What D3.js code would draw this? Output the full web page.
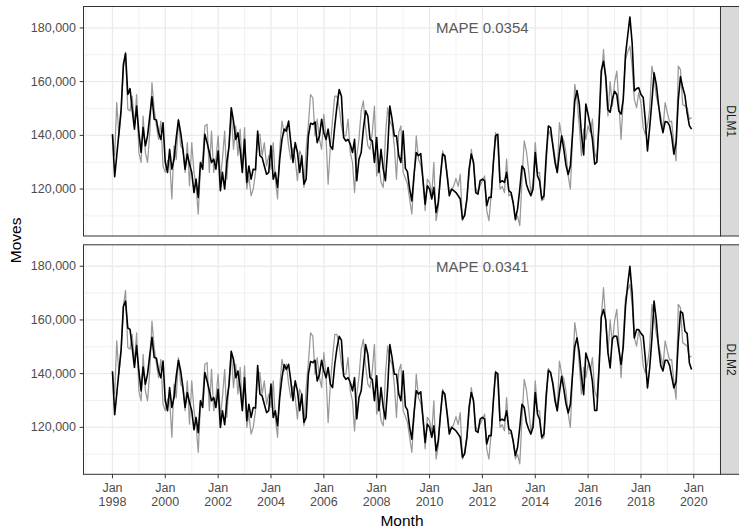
<!DOCTYPE html>
<html>
<head>
<meta charset="utf-8">
<script src="https://cdn.jsdelivr.net/npm/d3@7"></script>
<style>
  body { margin: 0; background: #ffffff; }
  svg { display: block; }
  text { font-family: "Liberation Sans", Arial, Helvetica, sans-serif; }
</style>
</head>
<body>
<svg id="chart" width="739" height="527"></svg>
<script>
// Monthly moves, Jan 1998 - Dec 2019 (one row per year)
const firstYear = 1998;

const actualMoves = [
  140400, 132400, 152200, 139800, 148400, 165000, 171000, 149700, 149100, 154600, 143500, 155200,
  133600, 129900, 147200, 133600, 129900, 141000, 159600, 149700, 143500, 138500, 145300, 128600,
  126200, 130500, 131100, 116300, 136100, 131000, 146000, 136100, 134800, 126200, 137300, 121200,
  137300, 126200, 121200, 110700, 128600, 131100, 143500, 144100, 126200, 141600, 126200, 131100,
  139800, 123700, 131100, 141600, 123700, 137300, 148400, 134800, 143500, 132400, 142300, 127400,
  142900, 120000, 124900, 117500, 120000, 126200, 139800, 140400, 132400, 137300, 128600, 132400,
  127400, 137300, 123700, 116300, 134800, 145300, 141000, 143500, 136100, 131100, 135400, 131100,
  123100, 134200, 132400, 120600, 134800, 144100, 155200, 154000, 139800, 146000, 138500, 134800,
  147800, 138500, 121800, 136100, 146000, 154600, 154600, 150300, 143500, 139800, 139800, 146000,
  133600, 129900, 118700, 132400, 138500, 149100, 152800, 142900, 136100, 134800, 141000, 150900,
  124900, 129300, 122500, 120600, 139800, 150300, 145300, 143500, 136100, 123700, 141000, 143500,
  126200, 124000, 122000, 116300, 110700, 124000, 139800, 131000, 129000, 124000, 112000, 123700,
  122500, 118000, 129900, 108200, 113000, 125000, 134200, 131000, 126000, 119000, 119500, 121200,
  124000, 121000, 125500, 108200, 111000, 116300, 125000, 134800, 129000, 120000, 119000, 121200,
  123000, 124900, 112000, 108200, 118000, 130000, 141000, 137000, 120000, 121000, 118700, 131100,
  117500, 118000, 115000, 108200, 110000, 106400, 123000, 137900, 134000, 127000, 118700, 122000,
  137300, 126000, 126200, 115600, 116300, 129000, 142000, 140000, 137000, 132000, 126000, 144700,
  139800, 137900, 133600, 124900, 120000, 140000, 159000, 153400, 143500, 132400, 142300, 138500,
  143500, 141000, 146000, 133600, 131100, 143500, 160800, 172000, 159600, 147200, 160000, 150900,
  159600, 163900, 152200, 138500, 153400, 168200, 171000, 173200, 165800, 153400, 150300, 155900,
  152000, 142900, 140400, 143500, 149700, 165800, 161400, 154600, 150900, 147200, 142300, 152200,
  148400, 145000, 145300, 137000, 130500, 165800, 164500, 151500, 150900, 150300, 146000, 146600
];

const dlm1Fitted = [
  140400, 124600, 132400, 141000, 149700, 166400, 170500, 155200, 157400, 149700, 142300, 150900,
  141000, 133600, 142900, 136100, 139800, 147200, 154400, 146000, 145700, 141000, 138500, 144700,
  129900, 126200, 134800, 127400, 131100, 139200, 145700, 141000, 134800, 127400, 133000, 129300,
  126200, 118700, 123700, 116900, 129900, 127400, 140400, 137300, 133600, 129900, 131100, 127400,
  134200, 119400, 126200, 120000, 129900, 136100, 150300, 145300, 138500, 141000, 134800, 126200,
  138500, 122500, 128600, 123700, 127400, 127200, 141600, 132400, 131700, 128600, 125500, 126200,
  136100, 123700, 126200, 120600, 131100, 138500, 142300, 141600, 145300, 137300, 129900, 137300,
  133600, 126200, 132400, 121800, 123700, 139800, 144500, 144100, 145000, 137300, 139800, 146000,
  141000, 138500, 142300, 136100, 134800, 143500, 150900, 157100, 154600, 139200, 137900, 138500,
  136700, 133600, 138500, 123100, 131100, 133600, 142300, 149100, 147200, 138500, 137900, 129900,
  139200, 126200, 134800, 127400, 123100, 134800, 150900, 146000, 139800, 139800, 132400, 129900,
  141600, 127700, 126500, 120000, 115600, 125500, 133600, 132400, 133200, 123700, 114400, 121200,
  120000, 116300, 120600, 111300, 115000, 124900, 133000, 132400, 124900, 117500, 120000, 119400,
  118700, 117500, 116300, 108800, 110100, 116300, 127400, 133000, 129900, 118700, 118100, 123100,
  123700, 123100, 113800, 116900, 116900, 129900, 139800, 140400, 122500, 123100, 122500, 126200,
  119400, 118700, 115000, 108800, 112500, 120000, 128600, 127400, 121800, 119400, 117500, 120000,
  133600, 124900, 123100, 116300, 117500, 132400, 143500, 142900, 136100, 129900, 126200, 133600,
  139800, 134500, 128900, 125400, 128600, 140900, 152800, 156700, 151700, 140400, 132700, 151700,
  147700, 143500, 138500, 129300, 130000, 145000, 164000, 167600, 162000, 149600, 148600, 153400,
  156400, 155200, 149100, 147900, 153400, 170000, 177000, 184100, 174400, 156500, 157400, 157700,
  155200, 154100, 146000, 134200, 142800, 152700, 163300, 159000, 151400, 144900, 141000, 145100,
  145000, 143500, 139800, 133000, 137200, 153300, 161900, 157800, 154800, 148400, 143600, 142300
];

const dlm2Fitted = [
  140900, 124700, 132400, 141000, 149000, 165000, 167000, 157000, 156500, 149700, 142300, 150500,
  141000, 133600, 142500, 136100, 139800, 147000, 153500, 146000, 145700, 141000, 138500, 144700,
  129900, 126200, 134800, 127400, 131100, 139200, 145000, 141000, 134800, 127400, 133000, 129300,
  126200, 119100, 123700, 118000, 129900, 127400, 140400, 137300, 133600, 129900, 131100, 127400,
  134200, 120000, 126200, 121000, 129900, 136100, 148300, 145300, 138500, 141000, 134800, 126200,
  138500, 122500, 128600, 123700, 127400, 127200, 143000, 132400, 131700, 128600, 125500, 126200,
  136100, 123700, 126200, 120600, 131100, 138500, 143400, 141600, 143500, 137300, 129900, 137300,
  133600, 126200, 132400, 121800, 123700, 139800, 144500, 144100, 145000, 137300, 139800, 145000,
  141000, 138500, 142300, 136100, 134800, 143500, 149500, 153900, 152500, 139200, 137900, 138500,
  136700, 133600, 138500, 123100, 131100, 133600, 142300, 150800, 147200, 138500, 137900, 129900,
  139200, 126200, 134800, 127400, 123100, 134800, 150800, 146000, 139800, 139800, 132400, 129900,
  141000, 127700, 126500, 120000, 115600, 125500, 133600, 132400, 133200, 123700, 114400, 121200,
  120000, 116300, 120600, 111300, 115000, 124900, 133400, 132400, 124900, 117500, 120000, 119400,
  118700, 117500, 116300, 108800, 110100, 116300, 127400, 133000, 129900, 118700, 118100, 123100,
  123700, 123100, 113800, 116900, 116900, 129900, 140500, 140000, 122500, 123100, 122500, 126200,
  119400, 118700, 115000, 109500, 112500, 120000, 128600, 127400, 121800, 119400, 117500, 120000,
  133000, 124900, 123100, 116300, 117500, 132000, 141200, 140500, 136100, 129900, 126200, 133000,
  139000, 134000, 128900, 125400, 128600, 140000, 150000, 153300, 148000, 139000, 132200, 147700,
  145000, 142100, 137000, 126300, 126300, 142000, 161000, 163900, 160000, 148000, 142100, 153000,
  154000, 153900, 149000, 143400, 150000, 165000, 173000, 180000, 170000, 153300, 156400, 156400,
  155000, 154000, 146000, 134700, 142000, 153000, 167000, 160000, 150000, 143000, 141000, 145000,
  145000, 143000, 139000, 134700, 137000, 152000, 163200, 162500, 155800, 155000, 144000, 141500
];

const modelNames = ["DLM1", "DLM2"];
const mapeLabels = ["MAPE 0.0354", "MAPE 0.0341"];
const xTickYears = [1998, 2000, 2002, 2004, 2006, 2008, 2010, 2012, 2014, 2016, 2018, 2020];
const yTickValues = [120000, 140000, 160000, 180000];
const yMinorValues = [110000, 130000, 150000, 170000];
const mapeLabelAt = { year: 2012, value: 180000 };

// ---- layout ----
const plotLeft = 83.5, plotRight = 720.5;
const panelTops = [6.5, 244.8];
const panelHeight = 229.5;
const stripWidth = 20;

const svg = d3.select("#chart");
const months = actualMoves.map((_, i) => new Date(Date.UTC(firstYear, i, 1)));

// ggplot-style 5% expansion on both axes
const t0 = months[0].getTime(), t1 = months[months.length - 1].getTime();
const tPad = (t1 - t0) * 0.05;
const x = d3.scaleUtc()
  .domain([new Date(t0 - tPad), new Date(t1 + tPad)])
  .range([plotLeft, plotRight]);

const allValues = actualMoves.concat(dlm1Fitted, dlm2Fitted);
const vMin = d3.min(allValues), vMax = d3.max(allValues);
const vPad = (vMax - vMin) * 0.05;

const majorDates = xTickYears.map(yr => new Date(Date.UTC(yr, 0, 1)));
const minorDates = d3.range(firstYear - 1, 2022, 2)
  .map(yr => new Date(Date.UTC(yr, 0, 1)))
  .filter(d => d >= x.domain()[0] && d <= x.domain()[1]);

const fmt = d3.format(",");
const fitted = [dlm1Fitted, dlm2Fitted];

modelNames.forEach((name, p) => {
  const top = panelTops[p];
  const bottom = top + panelHeight;
  const y = d3.scaleLinear().domain([vMin - vPad, vMax + vPad]).range([bottom, top]);
  const g = svg.append("g");

  g.append("rect")
    .attr("x", plotLeft).attr("y", top)
    .attr("width", plotRight - plotLeft).attr("height", panelHeight)
    .attr("fill", "#ffffff");

  // minor grid
  g.selectAll(".vminor").data(minorDates).join("line")
    .attr("x1", d => x(d)).attr("x2", d => x(d))
    .attr("y1", top).attr("y2", bottom)
    .attr("stroke", "#EBEBEB").attr("stroke-width", 0.7);
  g.selectAll(".hminor").data(yMinorValues).join("line")
    .attr("x1", plotLeft).attr("x2", plotRight)
    .attr("y1", d => y(d)).attr("y2", d => y(d))
    .attr("stroke", "#EBEBEB").attr("stroke-width", 0.7);

  // major grid
  g.selectAll(".vmajor").data(majorDates).join("line")
    .attr("x1", d => x(d)).attr("x2", d => x(d))
    .attr("y1", top).attr("y2", bottom)
    .attr("stroke", "#EBEBEB").attr("stroke-width", 1.3);
  g.selectAll(".hmajor").data(yTickValues).join("line")
    .attr("x1", plotLeft).attr("x2", plotRight)
    .attr("y1", d => y(d)).attr("y2", d => y(d))
    .attr("stroke", "#EBEBEB").attr("stroke-width", 1.3);

  const line = d3.line()
    .x((d, i) => x(months[i]))
    .y(d => y(d));

  g.append("path").datum(actualMoves)
    .attr("d", line).attr("fill", "none")
    .attr("stroke", "#999999").attr("stroke-width", 1.25)
    .attr("stroke-linejoin", "round");

  g.append("path").datum(fitted[p])
    .attr("d", line).attr("fill", "none")
    .attr("stroke", "#000000").attr("stroke-width", 1.6)
    .attr("stroke-linejoin", "round");

  g.append("text")
    .attr("x", x(new Date(Date.UTC(mapeLabelAt.year, 0, 1))))
    .attr("y", y(mapeLabelAt.value))
    .attr("text-anchor", "middle")
    .attr("dominant-baseline", "central")
    .attr("font-size", 15)
    .attr("fill", "#5a5a5a")
    .text(mapeLabels[p]);

  // panel border
  g.append("rect")
    .attr("x", plotLeft).attr("y", top)
    .attr("width", plotRight - plotLeft).attr("height", panelHeight)
    .attr("fill", "none").attr("stroke", "#333333").attr("stroke-width", 1);

  // strip
  g.append("rect")
    .attr("x", plotRight).attr("y", top)
    .attr("width", stripWidth).attr("height", panelHeight)
    .attr("fill", "#D9D9D9").attr("stroke", "#333333").attr("stroke-width", 1);
  g.append("text")
    .attr("transform", `translate(${plotRight + 10},${top + panelHeight / 2}) rotate(90)`)
    .attr("text-anchor", "middle")
    .attr("dominant-baseline", "central")
    .attr("font-size", 12)
    .attr("fill", "#1A1A1A")
    .text(name);

  // y axis
  g.selectAll(".ytick").data(yTickValues).join("line")
    .attr("x1", plotLeft - 3.8).attr("x2", plotLeft)
    .attr("y1", d => y(d)).attr("y2", d => y(d))
    .attr("stroke", "#333333").attr("stroke-width", 1);
  g.selectAll(".ylab").data(yTickValues).join("text")
    .attr("x", plotLeft - 7.5)
    .attr("y", d => y(d))
    .attr("text-anchor", "end")
    .attr("dominant-baseline", "central")
    .attr("font-size", 12.5)
    .attr("fill", "#4D4D4D")
    .text(d => fmt(d));

  // x axis only under the last panel
  if (p === modelNames.length - 1) {
    g.selectAll(".xtick").data(majorDates).join("line")
      .attr("x1", d => x(d)).attr("x2", d => x(d))
      .attr("y1", bottom).attr("y2", bottom + 4)
      .attr("stroke", "#333333").attr("stroke-width", 1);
    const lab = g.selectAll(".xlab").data(majorDates).join("text")
      .attr("text-anchor", "middle")
      .attr("font-size", 12.5)
      .attr("fill", "#4D4D4D");
    lab.append("tspan")
      .attr("x", d => x(d)).attr("y", bottom + 18)
      .text("Jan");
    lab.append("tspan")
      .attr("x", d => x(d)).attr("y", bottom + 31.5)
      .text(d => d.getUTCFullYear());
  }
});

// axis titles
svg.append("text")
  .attr("x", (plotLeft + plotRight) / 2)
  .attr("y", 520)
  .attr("text-anchor", "middle")
  .attr("dominant-baseline", "central")
  .attr("font-size", 15.5)
  .attr("fill", "#000000")
  .text("Month");

svg.append("text")
  .attr("transform", `translate(15,${(panelTops[0] + panelTops[1] + panelHeight) / 2}) rotate(-90)`)
  .attr("text-anchor", "middle")
  .attr("dominant-baseline", "central")
  .attr("font-size", 15.5)
  .attr("fill", "#000000")
  .text("Moves");
</script>
</body>
</html>
